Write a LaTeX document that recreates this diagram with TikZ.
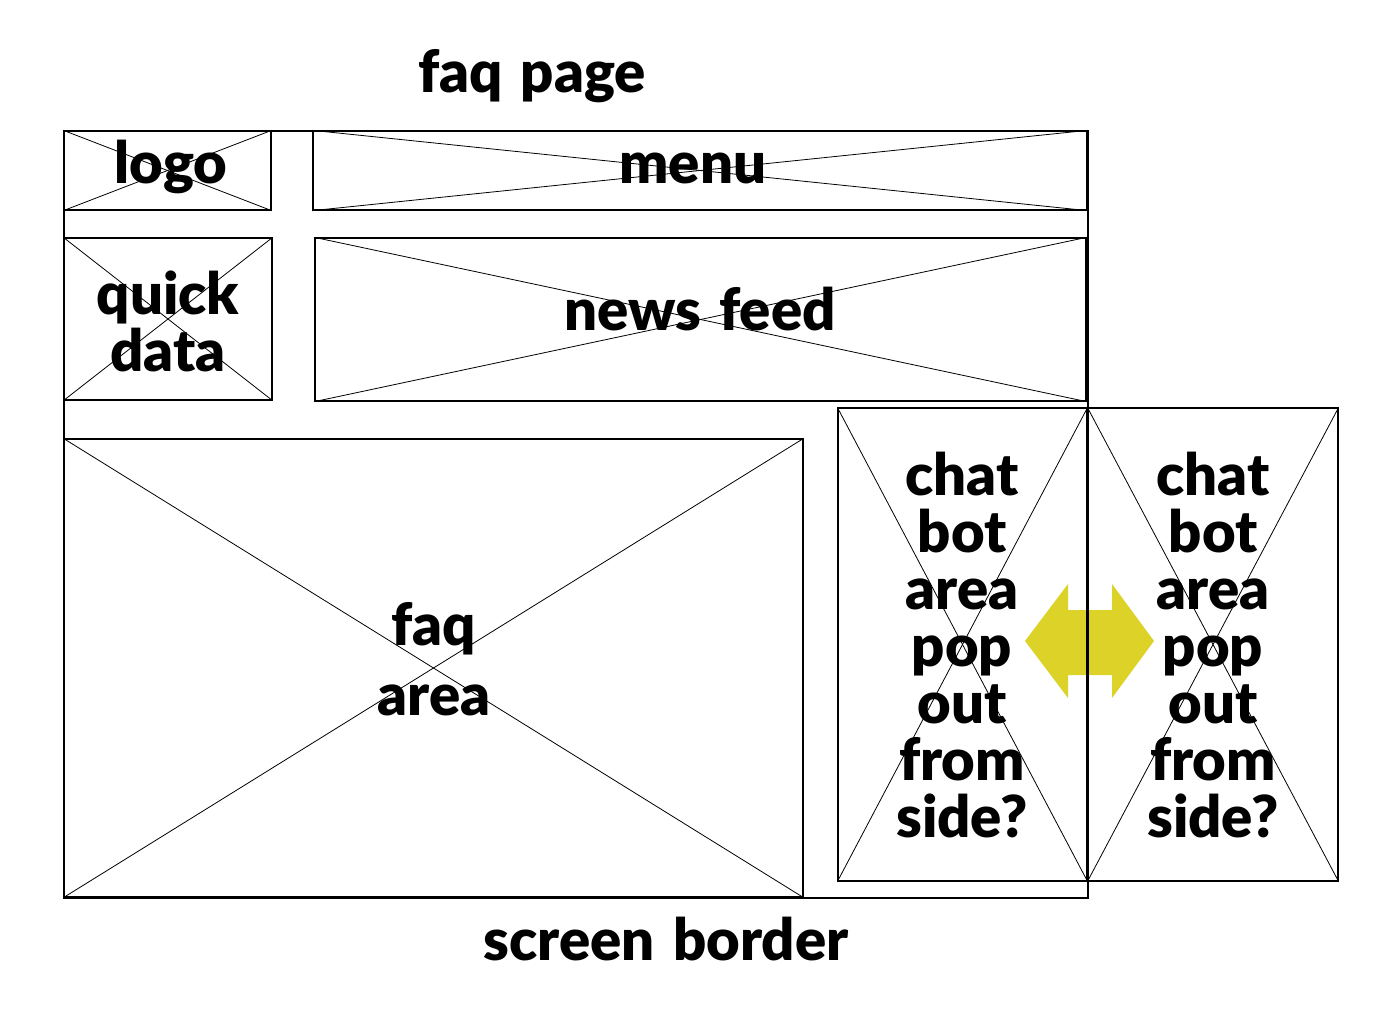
\documentclass[tikz,border=0pt]{standalone}
\usepackage{fontspec}
\setmainfont{Lato}[BoldFont={Lato Black}, BoldFeatures={WordSpace=1.35}]
\usetikzlibrary{fit}
\definecolor{arrowyellow}{RGB}{220,210,40}
\tikzset{
  box/.style={draw=black, line width=1.3pt, inner sep=0pt},
  diag/.style={draw=black, line width=0.8pt},
  lbl/.style={font=\fontsize{58}{57}\selectfont\bfseries, align=center, inner sep=0pt, text=black},
}
\begin{document}
\begin{tikzpicture}[x=1pt,y=-1pt]
\useasboundingbox (0,0) rectangle (1394,1014);
\fill[white] (0,0) rectangle (1394,1014);
% yellow double arrow (below lines)
\fill[arrowyellow] (1025,641) -- (1068,584) -- (1068,610) -- (1112,610) -- (1112,584)
  -- (1154,641) -- (1112,698) -- (1112,675) -- (1068,675) -- (1068,698) -- cycle;
% boxes
\node[box, fit={(64,131) (1088,898)}] (border) {};
\node[box, fit={(64,131) (271,210)}] (logo) {};
\node[box, fit={(313,131) (1087,210)}] (menu) {};
\node[box, fit={(64,238) (272,400)}] (quick) {};
\node[box, fit={(315,238) (1086,401)}] (news) {};
\node[box, fit={(64,439) (803,897)}] (faq) {};
\node[box, fit={(838,408) (1087,881)}] (chatL) {};
\node[box, fit={(1088,408) (1338,881)}] (chatR) {};
% diagonals
\foreach \b in {logo,menu,quick,news,faq,chatL,chatR}{
  \draw[diag] (\b.north west) -- (\b.south east);
  \draw[diag] (\b.south west) -- (\b.north east);
}
% labels
\node[lbl, anchor=base] (title) at (532,93) {faq page};
\node[lbl, anchor=base] (logoT) at (171,183) {logo};
\node[lbl, anchor=base] (menuT) at (693,183) {menu};
\node[lbl] (quickT) at (168,321) {quick\\data};
\node[lbl, anchor=base] (newsT) at (700,330) {news feed};
\node[lbl, font=\fontsize{58}{70}\selectfont\bfseries] (faqT) at (434,659) {faq\\area};
\node[lbl] (chatLT) at (962,645) {chat\\bot\\area\\pop\\out\\from\\side?};
\node[lbl] (chatRT) at (1213,645) {chat\\bot\\area\\pop\\out\\from\\side?};
\node[lbl, anchor=base] (borderT) at (666,960) {screen border};
\end{tikzpicture}
\end{document}
